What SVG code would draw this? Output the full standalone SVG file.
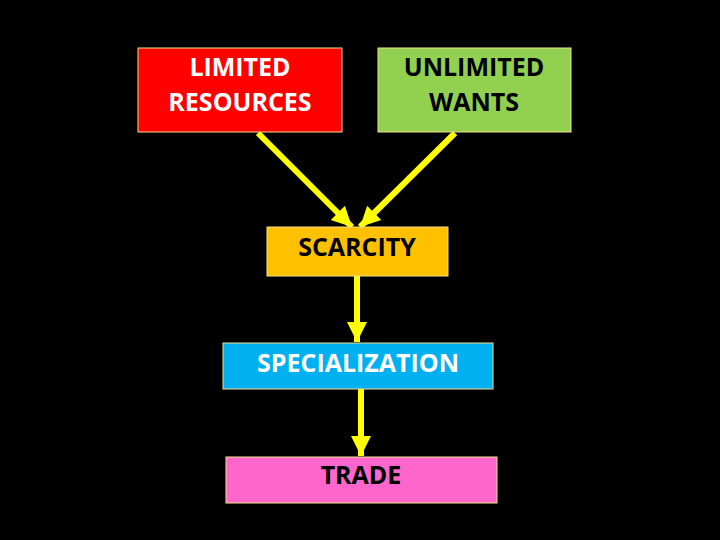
<svg xmlns="http://www.w3.org/2000/svg" width="720" height="540" viewBox="0 0 720 540">
<style>
.box{stroke:#F2E08A;stroke-width:1}
.t{font-family:"Open Sans","Noto Sans","Liberation Sans",sans-serif;font-size:25px;font-weight:bold;text-anchor:middle}
.w{fill:#FFFFFF}
.k{fill:#000000}
.c{stroke:#FFFF00;stroke-width:6;fill:none}
</style>
<defs>
<marker id="ah" markerUnits="userSpaceOnUse" markerWidth="22" markerHeight="22" viewBox="0 0 22 22" refX="20" refY="11" orient="auto">
<path d="M0,1 L20,11 L0,21 Z" fill="#FFFF00"/>
</marker>
</defs>
<rect width="720" height="540" fill="#000000"/>
<g id="connectors">
<line class="c" x1="258" y1="133" x2="352" y2="227" marker-end="url(#ah)"/>
<line class="c" x1="455" y1="133" x2="360" y2="227" marker-end="url(#ah)"/>
<line class="c" x1="357" y1="276" x2="357" y2="342" marker-end="url(#ah)"/>
<line class="c" x1="361" y1="389" x2="361" y2="456" marker-end="url(#ah)"/>
</g>
<g id="limited-resources">
<rect class="box" x="138" y="48" width="204" height="84" fill="#FF0000"/>
<text class="t w" x="240" y="76">LIMITED</text>
<text class="t w" x="240" y="111">RESOURCES</text>
</g>
<g id="unlimited-wants">
<rect class="box" x="378" y="48" width="193" height="84" fill="#92D050"/>
<text class="t k" x="474" y="76">UNLIMITED</text>
<text class="t k" x="474" y="111">WANTS</text>
</g>
<g id="scarcity">
<rect class="box" x="267" y="227" width="181" height="49" fill="#FFC000"/>
<text class="t k" x="357" y="256">SCARCITY</text>
</g>
<g id="specialization">
<rect class="box" x="223" y="343" width="270" height="46" fill="#00B0F0"/>
<text class="t w" x="358" y="372">SPECIALIZATION</text>
</g>
<g id="trade">
<rect class="box" x="226" y="457" width="271" height="46" fill="#FF66CC"/>
<text class="t k" x="361" y="484">TRADE</text>
</g>
</svg>
